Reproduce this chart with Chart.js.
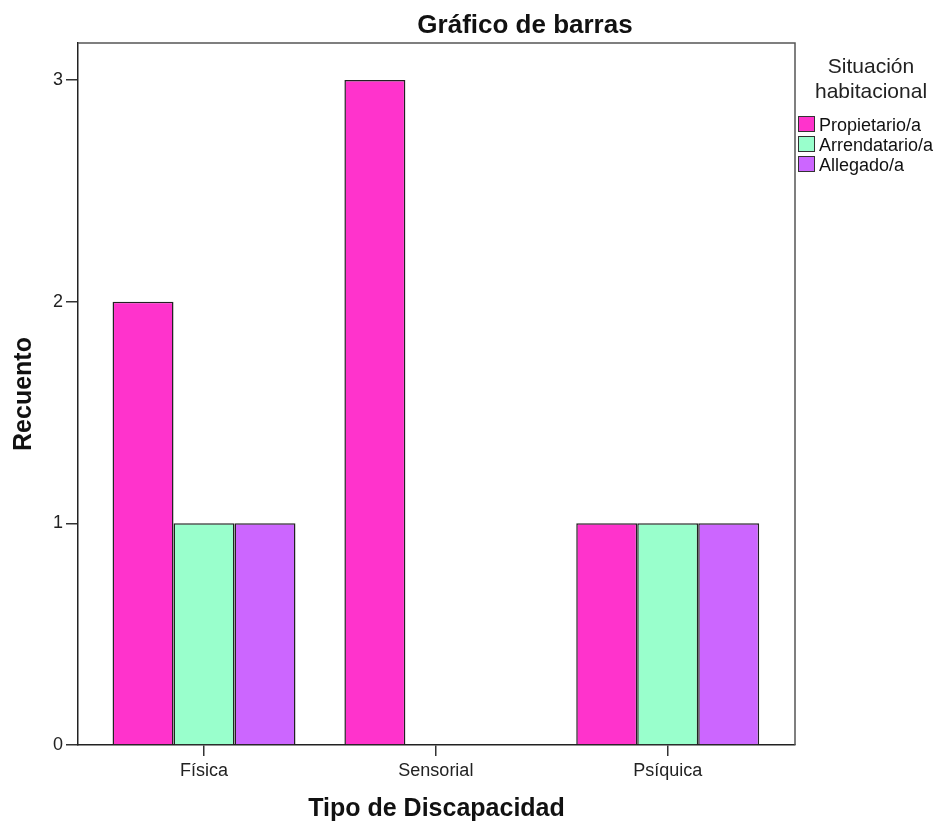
<!DOCTYPE html>
<html>
<head>
<meta charset="utf-8">
<script src="https://cdn.jsdelivr.net/npm/chart.js@4"></script>
<style>
  html, body { margin: 0; padding: 0; background: #fff; }
  canvas { display: block; }
</style>
</head>
<body>
<canvas id="chart" width="948" height="829"></canvas>
<script>
// datos
const categories = ['Física', 'Sensorial', 'Psíquica'];
const seriesNames = ['Propietario/a', 'Arrendatario/a', 'Allegado/a'];
const propietario = [2, 3, 1];
const arrendatario = [1, 0, 1];
const allegado = [1, 0, 1];
const yTicks = [0, 1, 2, 3];

const colors = ['#FF33CC', '#99FFCC', '#CC66FF'];
const FONT = "'Liberation Sans', Arial, sans-serif";

const toPoints = arr => arr.map((v, i) => ({ x: i, y: v }));

// título y leyenda dibujados a mano (posición fija como en SPSS)
const extras = {
    id: 'extras',
    afterDraw(chart) {
        const ctx = chart.ctx;
        const a = chart.chartArea;
        ctx.save();
        // marco superior y derecho
        ctx.strokeStyle = '#555';
        ctx.lineWidth = 1.5;
        ctx.beginPath();
        ctx.moveTo(a.left, a.top);
        ctx.lineTo(a.right, a.top);
        ctx.lineTo(a.right, a.bottom);
        ctx.stroke();

        // título
        ctx.fillStyle = '#111';
        ctx.font = `bold 26px ${FONT}`;
        ctx.textAlign = 'center';
        ctx.textBaseline = 'alphabetic';
        ctx.fillText('Gráfico de barras', 525, 33);

        // leyenda
        ctx.font = `21px ${FONT}`;
        ctx.fillStyle = '#222';
        ctx.fillText('Situación', 871, 73);
        ctx.fillText('habitacional', 871, 98);
        ctx.textAlign = 'left';
        ctx.font = `18px ${FONT}`;
        chart.data.datasets.forEach((ds, i) => {
            const y = 116 + i * 20;
            ctx.fillStyle = ds.backgroundColor;
            ctx.fillRect(798, y, 17, 16);
            ctx.strokeStyle = '#333';
            ctx.lineWidth = 1;
            ctx.strokeRect(798.5, y + 0.5, 16, 15);
            ctx.fillStyle = '#111';
            ctx.fillText(ds.label, 819, y + 15);
        });
        ctx.restore();
    }
};

new Chart(document.getElementById('chart'), {
    type: 'bar',
    data: {
        datasets: [
            { label: seriesNames[0], data: toPoints(propietario), backgroundColor: colors[0] },
            { label: seriesNames[1], data: toPoints(arrendatario), backgroundColor: colors[1] },
            { label: seriesNames[2], data: toPoints(allegado), backgroundColor: colors[2] }
        ]
    },
    options: {
        responsive: false,
        animation: false,
        layout: { padding: { top: 43, right: 153, left: 0, bottom: 0 } },
        datasets: {
            bar: { borderColor: '#222', borderWidth: 1.5, borderSkipped: 'start', categoryPercentage: 0.789, barPercentage: 1 }
        },
        plugins: { legend: { display: false }, title: { display: false }, tooltip: { enabled: false } },
        scales: {
            x: {
                type: 'linear',
                offset: false,
                min: -0.5435,
                max: 2.549,
                afterBuildTicks: s => { s.ticks = categories.map((c, i) => ({ value: i })); },
                afterFit: s => { s.height = 84; },
                ticks: {
                    callback: v => categories[v],
                    color: '#222',
                    font: { family: FONT, size: 18 },
                    padding: 4,
                    maxRotation: 0
                },
                grid: { offset: false, drawOnChartArea: false, drawTicks: true, tickLength: 11, lineWidth: 1.5, color: '#333' },
                border: { display: true, color: '#222', width: 1.5 },
                title: {
                    display: true,
                    text: 'Tipo de Discapacidad',
                    color: '#111',
                    font: { family: FONT, size: 25, weight: 'bold' },
                    padding: { top: 0, bottom: 5 }
                }
            },
            y: {
                min: 0,
                max: 3.167,
                afterBuildTicks: s => { s.ticks = yTicks.map(v => ({ value: v })); },
                afterFit: s => { s.width = 78; },
                ticks: {
                    color: '#222',
                    font: { family: FONT, size: 18 },
                    padding: 3
                },
                grid: { drawOnChartArea: false, drawTicks: true, tickLength: 12, lineWidth: 1.5, color: '#333' },
                border: { display: true, color: '#222', width: 1.5 },
                title: {
                    display: true,
                    text: 'Recuento',
                    color: '#111',
                    font: { family: FONT, size: 25, weight: 'bold' },
                    padding: { top: 9, bottom: 0 }
                }
            }
        }
    },
    plugins: [extras]
});
</script>
</body>
</html>
